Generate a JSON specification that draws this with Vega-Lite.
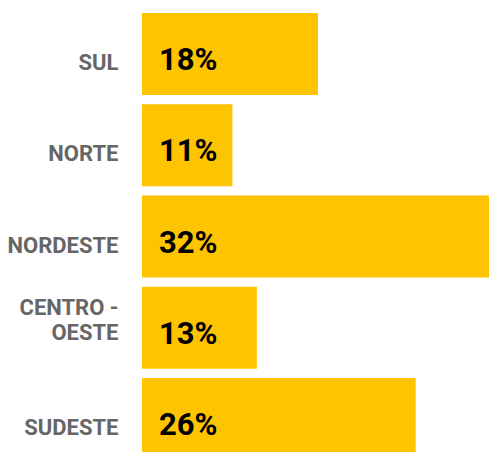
{
  "$schema": "https://vega.github.io/schema/vega-lite/v6.json",
  "autosize": {"type": "none"},
  "width": 347,
  "height": 452,
  "padding": {"left": 142, "top": 0, "right": 0, "bottom": 0},
  "background": "white",
  "config": {"view": {"stroke": null}},
  "data": {
    "values": [
      {"regiao": "SUL", "valor": 0.18},
      {"regiao": "NORTE", "valor": 0.11},
      {"regiao": "NORDESTE", "valor": 0.32},
      {"regiao": "CENTRO - OESTE", "valor": 0.13},
      {"regiao": "SUDESTE", "valor": 0.26}
    ]
  },
  "encoding": {
    "y": {
      "field": "regiao",
      "type": "nominal",
      "sort": null,
      "scale": {"range": [13, 460], "paddingInner": 0.1, "paddingOuter": 0},
      "axis": {
        "title": null,
        "domain": false,
        "ticks": false,
        "labelPadding": 24,
        "labelOffset": {"condition": {"test": "datum.value == 'CENTRO - OESTE'", "value": -20}, "value": 9},
        "labelFont": "Roboto",
        "labelFontWeight": "bold",
        "labelFontSize": 22,
        "labelColor": "#666666",
        "labelLineHeight": 25,
        "labelLimit": 200,
        "labelExpr": "datum.label == 'CENTRO - OESTE' ? ['CENTRO -', 'OESTE'] : datum.label"
      }
    }
  },
  "layer": [
    {
      "mark": {"type": "bar", "color": "#FEC400", "clip": true},
      "encoding": {
        "x": {"field": "valor", "type": "quantitative", "scale": {"domain": [0.036, 0.32], "zero": false, "nice": false}, "axis": null},
        "x2": {"datum": 0.036}
      }
    },
    {
      "mark": {"type": "text", "align": "left", "baseline": "alphabetic", "dx": 17, "dy": 16, "font": "Roboto", "fontWeight": "bold", "fontSize": 31, "color": "#000000", "clip": true},
      "encoding": {
        "x": {"datum": 0.036, "type": "quantitative"},
        "text": {"field": "valor", "type": "quantitative", "format": ".0%"}
      }
    }
  ]
}
